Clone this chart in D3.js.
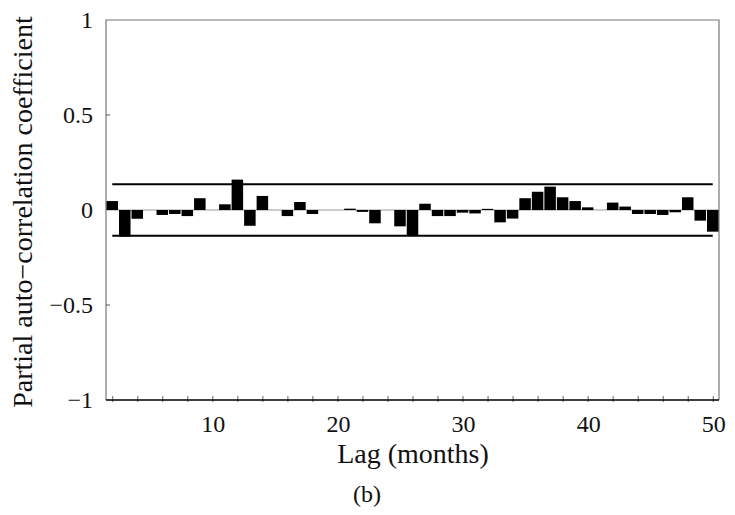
<!DOCTYPE html>
<html>
<head>
<meta charset="utf-8">
<script src="https://cdn.jsdelivr.net/npm/d3@7"></script>
<style>
  body { margin: 0; background: #fff; }
  svg text { font-family: "Times New Roman", Times, "Liberation Serif", serif; fill: #111; }
</style>
</head>
<body>
<div class="chart"></div>
<script>
var svgWidth = 735;
var svgHeight = 515;

// lags 2..50 and partial auto-correlation values
var lags = d3.range(2, 51);
var pacf = [
   0.047, -0.140, -0.046,  0.000, -0.026, -0.021, -0.032,  0.062,  0.000,
   0.030,  0.160, -0.083,  0.074,  0.000, -0.032,  0.042, -0.021,  0.000,
   0.000,  0.007, -0.010, -0.070,  0.000, -0.086, -0.137,  0.033, -0.032,
  -0.032, -0.014, -0.018,  0.006, -0.065, -0.045,  0.062,  0.096,  0.123,
   0.067,  0.047,  0.014,  0.000,  0.039,  0.018, -0.021, -0.021, -0.026,
  -0.012,  0.067, -0.056, -0.114
];
var bound = 0.135;               // significance limits
var xTicks = [10, 20, 30, 40, 50];
var xMinor = d3.range(2, 51, 2);
var yTicks = [-1, -0.5, 0, 0.5, 1];

var plot = { left: 106, right: 719, top: 20, bottom: 400 };
var serif = "'Times New Roman', Times, 'Liberation Serif', serif";

var svg = d3.select(".chart")
    .append("svg")
    .attr("width", svgWidth)
    .attr("height", svgHeight);

var x = d3.scaleLinear().domain([1.5, 50.5]).range([plot.left, plot.right]);
var y = d3.scaleLinear().domain([-1, 1]).range([plot.bottom, plot.top]);

var data = lags.map(function(l, i) { return { lag: l, v: pacf[i] }; });

// frame (grey) - left, top, right
svg.append("path")
    .attr("d", "M" + plot.left + "," + plot.bottom + "V" + plot.top + "H" + plot.right + "V" + plot.bottom)
    .attr("fill", "none")
    .attr("stroke", "#777")
    .attr("stroke-width", 1.2);

// zero line
svg.append("line")
    .attr("x1", plot.left).attr("x2", plot.right)
    .attr("y1", y(0)).attr("y2", y(0))
    .attr("stroke", "#999")
    .attr("stroke-width", 1);

// bars
var bw = x(2) - x(1);
svg.selectAll("rect.bar")
    .data(data)
    .enter()
    .append("rect")
    .attr("class", "bar")
    .attr("x", function(d) { return x(d.lag) - bw * 0.46; })
    .attr("width", bw * 0.92)
    .attr("y", function(d) { return y(Math.max(0, d.v)); })
    .attr("height", function(d) { return Math.abs(y(d.v) - y(0)); })
    .attr("fill", "#000");

// confidence bounds
[bound, -bound].forEach(function(b) {
  svg.append("line")
      .attr("x1", x(2)).attr("x2", x(50))
      .attr("y1", y(b)).attr("y2", y(b))
      .attr("stroke", "#000")
      .attr("stroke-width", 2);
});

// bottom axis
var xAxis = d3.axisBottom(x)
    .tickValues(xMinor)
    .tickSize(0)
    .tickFormat("");
var gx = svg.append("g")
    .attr("transform", "translate(0," + plot.bottom + ")")
    .call(xAxis);
gx.select(".domain").remove();
gx.append("line")
    .attr("x1", plot.left).attr("x2", plot.right)
    .attr("stroke", "#000").attr("stroke-width", 1.3);
gx.selectAll(".tick line")
    .attr("y1", -4).attr("y2", 2)
    .attr("stroke", "#666");

svg.selectAll("text.xlab")
    .data(xTicks)
    .enter()
    .append("text")
    .attr("class", "xlab")
    .attr("x", function(d) { return x(d) + 1; })
    .attr("y", 432)
    .attr("text-anchor", "middle")
    .attr("font-family", serif)
    .style("font-size", "24px")
    .text(function(d) { return d; });

// left axis
svg.selectAll("line.ytick")
    .data([-0.5, 0.5])
    .enter()
    .append("line")
    .attr("class", "ytick")
    .attr("x1", plot.left).attr("x2", plot.left + 4)
    .attr("y1", function(d) { return y(d); })
    .attr("y2", function(d) { return y(d); })
    .attr("stroke", "#555");

var fmt = function(d) { return d === 0 ? "0" : String(d).replace("-", "\u2212"); };
svg.selectAll("text.ylab")
    .data(yTicks)
    .enter()
    .append("text")
    .attr("class", "ylab")
    .attr("x", 93)
    .attr("y", function(d) { return y(d) + 8; })
    .attr("text-anchor", "end")
    .attr("font-family", serif)
    .style("font-size", "24px")
    .text(fmt);

// axis titles
svg.append("text")
    .attr("x", 413)
    .attr("y", 463)
    .attr("text-anchor", "middle")
    .attr("font-family", serif)
    .style("font-size", "28px")
    .text("Lag (months)");

svg.append("text")
    .attr("transform", "translate(32," + 212 + ") rotate(-90)")
    .attr("text-anchor", "middle")
    .attr("font-family", serif)
    .style("font-size", "28px")
    .text("Partial auto\u2212correlation coefficient");

svg.append("text")
    .attr("x", 367)
    .attr("y", 502)
    .attr("text-anchor", "middle")
    .attr("font-family", serif)
    .style("font-size", "24px")
    .text("(b)");
</script>
</body>
</html>
